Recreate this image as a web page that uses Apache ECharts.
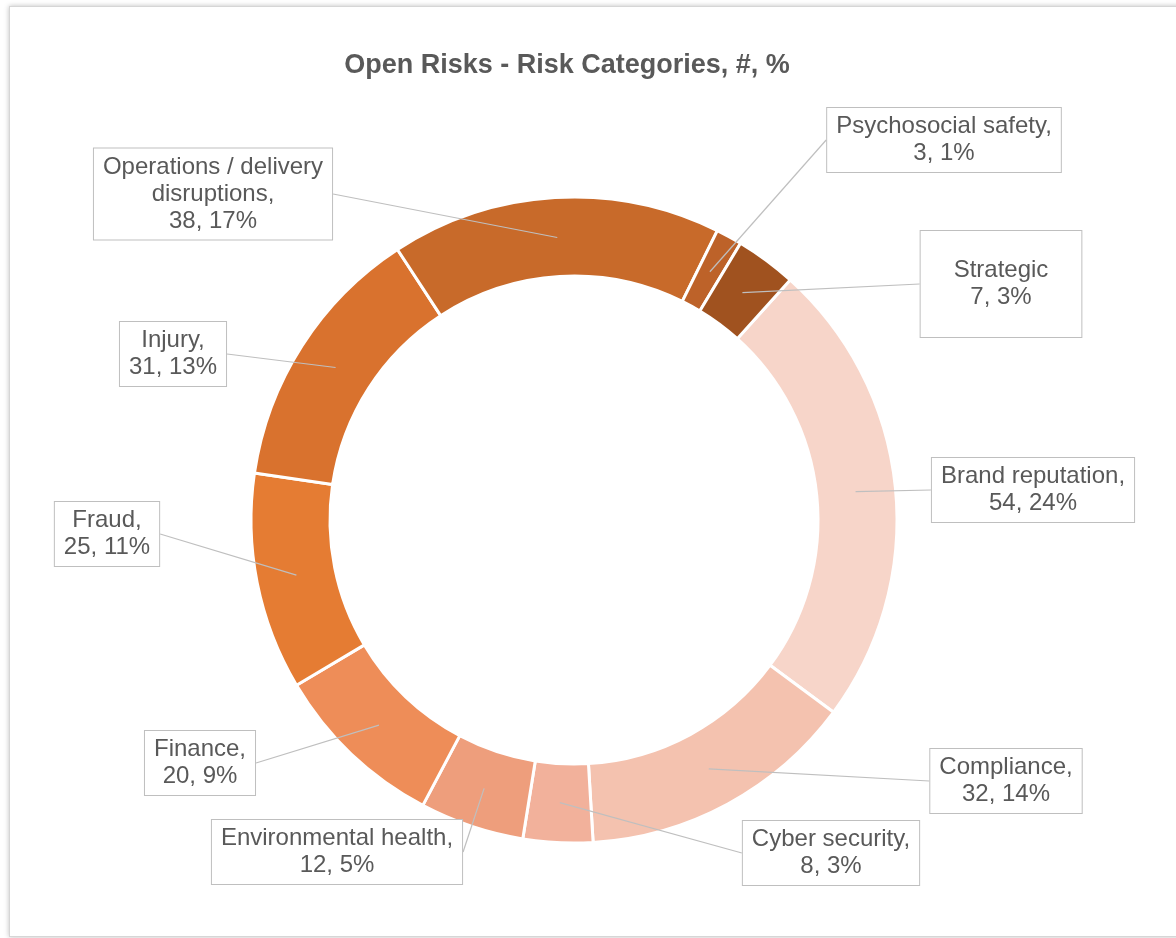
<!DOCTYPE html>
<html><head>
<meta charset="utf-8">
<title>Open Risks - Risk Categories</title>
<script src="https://cdn.jsdelivr.net/npm/echarts@6/dist/echarts.min.js"></script>
<style>
body{margin:0;background:#fff;overflow:hidden;}
#frame{position:absolute;left:9px;top:6px;width:1200px;height:929px;border:1px solid #d6d6d6;box-shadow:0 0 5px rgba(0,0,0,0.25);background:#fff;}
#main{position:absolute;left:0;top:0;width:1176px;height:938px;}
</style>
</head>
<body>
<div id="frame"></div>
<div id="main"></div>
<script type="text/javascript">
var categories = ['Brand reputation', 'Compliance', 'Cyber security', 'Environmental health', 'Finance',
                  'Fraud', 'Injury', 'Operations / delivery disruptions', 'Psychosocial safety', 'Strategic'];
var counts = [54, 32, 8, 12, 20, 25, 31, 38, 3, 7];
var colors = ['#F7D5C9', '#F4C2AF', '#F2B19B', '#EE9E7C', '#EE8D58',
              '#E57C33', '#D9722E', '#C86A2A', '#BD6229', '#A0521F'];

// where each label box sits (centre, px)
var boxCentres = [[1033, 490], [1006, 781], [831, 853], [337, 852], [200, 763],
                  [107, 534], [173, 354], [213, 194], [944, 140], [1001, 284]];

var font = 'Liberation Sans, Arial, sans-serif';

function labelText(p) {
    var head = p.name === 'Strategic' ? p.name : p.name + ',';
    head = head.replace(' / delivery ', ' / delivery\n');
    return head + '\n' + p.value + ', ' + p.percent + '%';
}

var ringData = [];
var labelData = [];
for (var i = 0; i < categories.length; i++) {
    ringData.push({name: categories[i], value: counts[i], itemStyle: {color: colors[i]}});
    var item = {name: categories[i], value: counts[i]};
    if (categories[i] === 'Strategic') item.label = {padding: [26, 33]};
    labelData.push(item);
}

var myChart = echarts.init(document.getElementById('main'), null, {renderer: 'canvas'});
var option = {
    backgroundColor: 'transparent',
    animation: false,
    title: {
        text: 'Open Risks - Risk Categories, #, %',
        left: 562,
        top: 47,
        textAlign: 'center',
        textStyle: {color: '#595959', fontSize: 27, fontWeight: 'bold', fontFamily: font}
    },
    series: [
        {
            // the visible ring
            type: 'pie',
            radius: [244, 323],
            center: [574, 520],
            startAngle: 48,
            silent: true,
            label: {show: false},
            labelLine: {show: false},
            itemStyle: {borderColor: '#fff', borderWidth: 3},
            data: ringData
        },
        {
            // invisible copy, only carries the callout labels so the lines end mid-ring
            type: 'pie',
            radius: [0, 283],
            center: [574, 520],
            startAngle: 48,
            silent: true,
            z: 3,
            percentPrecision: 0,
            avoidLabelOverlap: false,
            itemStyle: {color: 'rgba(0,0,0,0)', borderWidth: 0},
            label: {
                show: true,
                position: 'outside',
                formatter: labelText,
                color: '#595959',
                fontSize: 24,
                fontFamily: font,
                lineHeight: 27,
                align: 'center',
                backgroundColor: '#fff',
                borderColor: '#bfbfbf',
                borderWidth: 1,
                padding: [5, 9]
            },
            labelLine: {show: true, length: 10, length2: 0, lineStyle: {color: '#bfbfbf', width: 1.2}},
            labelLayout: function (p) {
                var c = boxCentres[p.dataIndex];
                return {x: c[0], y: c[1], align: 'center', verticalAlign: 'middle'};
            },
            data: labelData
        }
    ]
};
myChart.setOption(option);
</script>
</body>
</html>
